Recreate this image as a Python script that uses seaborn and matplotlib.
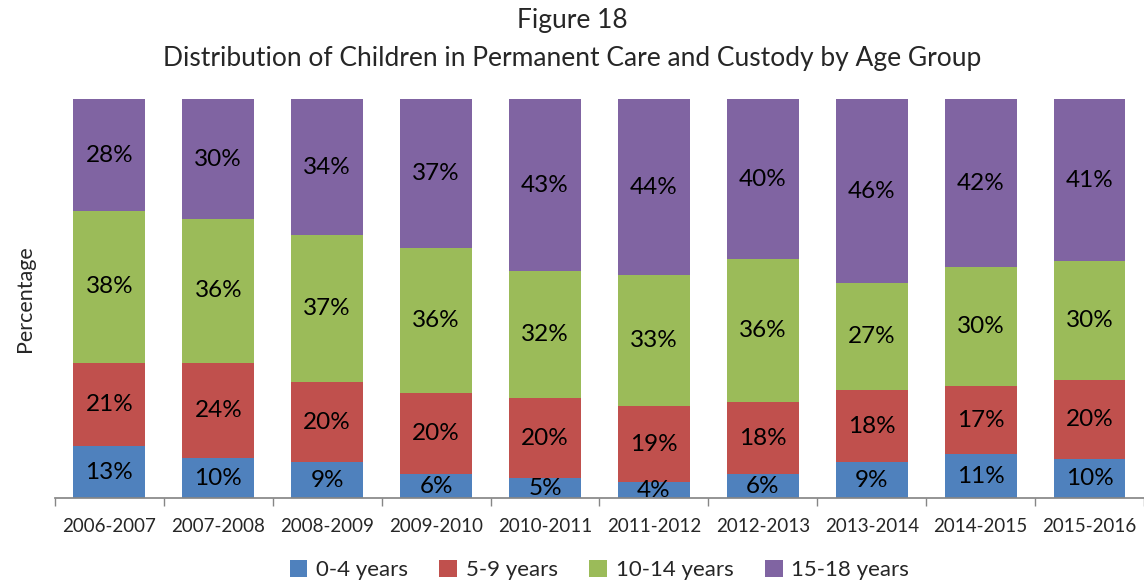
import matplotlib
matplotlib.use("Agg")
import matplotlib.pyplot as plt
import numpy as np
import pandas as pd
import seaborn as sns

years = ["2006-2007", "2007-2008", "2008-2009", "2009-2010", "2010-2011",
         "2011-2012", "2012-2013", "2013-2014", "2014-2015", "2015-2016"]
age_0_4 = [13, 10, 9, 6, 5, 4, 6, 9, 11, 10]
age_5_9 = [21, 24, 20, 20, 20, 19, 18, 18, 17, 20]
age_10_14 = [38, 36, 37, 36, 32, 33, 36, 27, 30, 30]
age_15_18 = [28, 30, 34, 37, 43, 44, 40, 46, 42, 41]

groups = ["0-4 years", "5-9 years", "10-14 years", "15-18 years"]
colors = ["#4F81BD", "#C0504D", "#9BBB59", "#8064A2"]

sns.set_theme(style="white")
plt.rcParams["font.family"] = ["Lato", "DejaVu Sans"]

raw = np.array([age_0_4, age_5_9, age_10_14, age_15_18], dtype=float)
share = raw / raw.sum(axis=0) * 100
cum = np.cumsum(share, axis=0)

fig = plt.figure(figsize=(11.44, 5.84), dpi=100)
ax = fig.add_axes([0.048, 0.147, 0.952, 0.683])

# draw tallest cumulative first so lower segments sit on top
for i in range(3, -1, -1):
    df = pd.DataFrame({"year": years, "value": cum[i]})
    sns.barplot(data=df, x="year", y="value", color=colors[i], width=0.66,
                saturation=1, linewidth=0, ax=ax, label=groups[i])

for i in range(4):
    base = cum[i] - share[i]
    for j in range(len(years)):
        ax.text(j, base[j] + share[i][j] / 2, f"{int(raw[i][j])}%",
                ha="center", va="center", fontsize=17.5, color="black")

ax.set_ylim(0, 100)
ax.set_xlim(-0.5, len(years) - 0.5)
ax.set_yticks([])
ax.set_xlabel("")
ax.set_ylabel("Percentage", fontsize=15.5, labelpad=14)
for side in ["top", "right", "left"]:
    ax.spines[side].set_visible(False)
ax.spines["bottom"].set_color("#868686")
ax.set_xticks(np.arange(-0.5, len(years), 1), minor=True)
ax.tick_params(axis="x", which="major", length=0, labelsize=13.5, pad=14)
ax.tick_params(axis="x", which="minor", length=6, width=1, color="#868686",
               direction="out", bottom=True)

fig.text(0.5, 0.965, "Figure 18", ha="center", va="center", fontsize=19)
fig.text(0.5, 0.9, "Distribution of Children in Permanent Care and Custody by Age Group",
         ha="center", va="center", fontsize=19)

handles, labels = ax.get_legend_handles_labels()
order = [labels.index(g) for g in groups]
leg = ax.legend([handles[k] for k in order], [labels[k] for k in order],
                loc="center", bbox_to_anchor=(0.5, -0.18), ncol=4,
                frameon=False, fontsize=16, handlelength=0.8, handleheight=0.8,
                handletextpad=0.4, columnspacing=1.4)

fig.savefig("out.png", dpi=100)
